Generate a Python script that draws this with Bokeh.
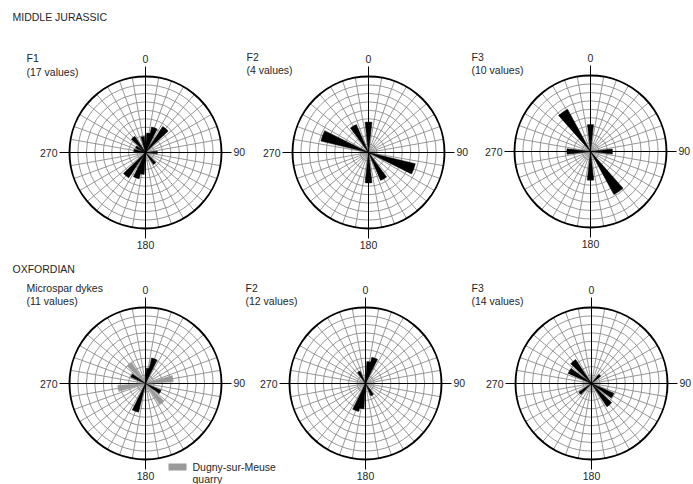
import numpy as np
from bokeh.plotting import figure
from bokeh.models import Range1d
from bokeh.core.properties import value
from bokeh.embed import file_html
from bokeh.resources import INLINE

# ---------------- data (petal azimuth in degrees, length in grid rings) ----------------
mj_f1_az = [10, 20, 40, 90, 140, 190, 200, 220, 280, 300, 320, 350]
mj_f1_len = [2.3, 3.1, 3.7, 1.4, 1.7, 2.6, 3.2, 3.6, 1.4, 1.3, 2.3, 1.9]

mj_f2_az = [0, 110, 150, 180, 290, 330]
mj_f2_len = [3.6, 5.7, 3.6, 3.6, 5.8, 3.6]

mj_f3_az = [0, 90, 145, 180, 270, 325]
mj_f3_len = [3.2, 2.6, 5.8, 3.4, 2.8, 5.7]

ox_ms_az = [10, 20, 120, 200, 300]
ox_ms_len = [1.8, 3.1, 2.0, 3.5, 1.9]
ox_dugny_az = [80, 140, 260, 320]
ox_dugny_len = [3.3, 3.0, 3.3, 3.0]

ox_f2_az = [10, 20, 150, 190, 200, 330]
ox_f2_len = [2.6, 3.2, 1.6, 3.0, 3.4, 1.6]

ox_f3_az = [45, 120, 140, 230, 300, 320]
ox_f3_len = [1.4, 2.9, 3.3, 1.8, 3.0, 3.4]

panel_titles = [
    ["F1", "(17 values)"],
    ["F2", "(4 values)"],
    ["F3", "(10 values)"],
    ["Microspar dykes", "(11 values)"],
    ["F2", "(12 values)"],
    ["F3", "(14 values)"],
]
row_titles = ["MIDDLE JURASSIC", "OXFORDIAN"]
tick_labels = ["0", "90", "180", "270"]
legend_label = ["Dugny-sur-Meuse", "quarry"]

# ---------------- layout ----------------
W, H = 693, 484
FONT = value("Liberation Sans")
FS = "10.5px"
R = 76.0          # outer radius in px
NRING = 9
BIN_W = 13.0      # petal angular width (deg)

def Y(yi):        # image row -> data y
    return H - yi

p = figure(width=W, height=H, x_range=Range1d(0, W), y_range=Range1d(0, H),
           output_backend="svg", toolbar_location=None, min_border=0,
           x_axis_type=None, y_axis_type=None)
p.grid.visible = False
p.outline_line_color = None
p.background_fill_color = "white"

centers = [(145, 152), (368, 152), (590, 151), (145, 383), (365, 383), (591, 383)]
title_pos = [(26, 57, 71), (246, 56, 69), (471, 56, 69), (26, 287, 300), (245, 287, 300), (471, 287, 300)]
petals = [
    [(mj_f1_az, mj_f1_len, "black")],
    [(mj_f2_az, mj_f2_len, "black")],
    [(mj_f3_az, mj_f3_len, "black")],
    [(ox_dugny_az, ox_dugny_len, "#9a9a9a"), (ox_ms_az, ox_ms_len, "black")],
    [(ox_f2_az, ox_f2_len, "black")],
    [(ox_f3_az, ox_f3_len, "black")],
]

grid_col = "#8c8c8c"
txt_col = "#262626"

for (cx, cyi), plist in zip(centers, petals):
    cy = Y(cyi)
    # rings
    rr = [R * k / NRING for k in range(1, NRING)]
    p.circle(x=[cx] * len(rr), y=[cy] * len(rr), radius=rr, fill_color=None,
             line_color=grid_col, line_width=0.9)
    # spokes every 10 deg
    angs = np.deg2rad(np.arange(0, 360, 10))
    xs = [[cx, cx + R * np.sin(a)] for a in angs]
    ys = [[cy, cy + R * np.cos(a)] for a in angs]
    p.multi_line(xs=xs, ys=ys, line_color=grid_col, line_width=0.9)
    # outer circle
    p.circle(x=[cx], y=[cy], radius=[R], fill_color=None, line_color="black", line_width=1.9)
    # cross axes
    ext = 10
    p.multi_line(xs=[[cx, cx], [cx - R - ext, cx + R + ext]],
                 ys=[[cy - R - ext, cy + R + ext], [cy, cy]],
                 line_color="black", line_width=1.0)
    # petals
    for az, ln, col in plist:
        az = np.asarray(az, float)
        ln = np.asarray(ln, float)
        p.wedge(x=[cx] * len(az), y=[cy] * len(az), radius=ln * R / NRING,
                start_angle=np.deg2rad(90 - (az + BIN_W / 2)),
                end_angle=np.deg2rad(90 - (az - BIN_W / 2)),
                fill_color=col, line_color=col, line_width=0.5)
    # tick labels
    p.text(x=[cx], y=[cy + R + 18], text=[tick_labels[0]], text_font=FONT, text_font_size=FS,
           text_align="center", text_baseline="middle", text_color=txt_col)
    p.text(x=[cx], y=[cy - R - 16], text=[tick_labels[2]], text_font=FONT, text_font_size=FS,
           text_align="center", text_baseline="middle", text_color=txt_col)
    p.text(x=[cx - R - 12], y=[cy], text=[tick_labels[3]], text_font=FONT, text_font_size=FS,
           text_align="right", text_baseline="middle", text_color=txt_col)
    p.text(x=[min(cx + R + 12, W - 14)], y=[cy + 1], text=[tick_labels[1]], text_font=FONT,
           text_font_size=FS, text_align="left", text_baseline="middle", text_color=txt_col)

# panel titles
for (tx, ty1, ty2), lines in zip(title_pos, panel_titles):
    p.text(x=[tx, tx], y=[Y(ty1), Y(ty2)], text=lines, text_font=FONT, text_font_size=FS,
           text_align="left", text_baseline="middle", text_color=txt_col)

# row titles
p.text(x=[12, 12], y=[Y(16), Y(268)], text=row_titles, text_font=FONT, text_font_size=FS,
       text_align="left", text_baseline="middle", text_color=txt_col)

# legend
p.quad(left=[168], right=[186], bottom=[Y(470)], top=[Y(463)], fill_color="#9a9a9a", line_color=None)
p.text(x=[192, 192], y=[Y(466), Y(478)], text=legend_label, text_font=FONT, text_font_size=FS,
       text_align="left", text_baseline="middle", text_color=txt_col)

open("out.html", "w").write(file_html(p, INLINE))
